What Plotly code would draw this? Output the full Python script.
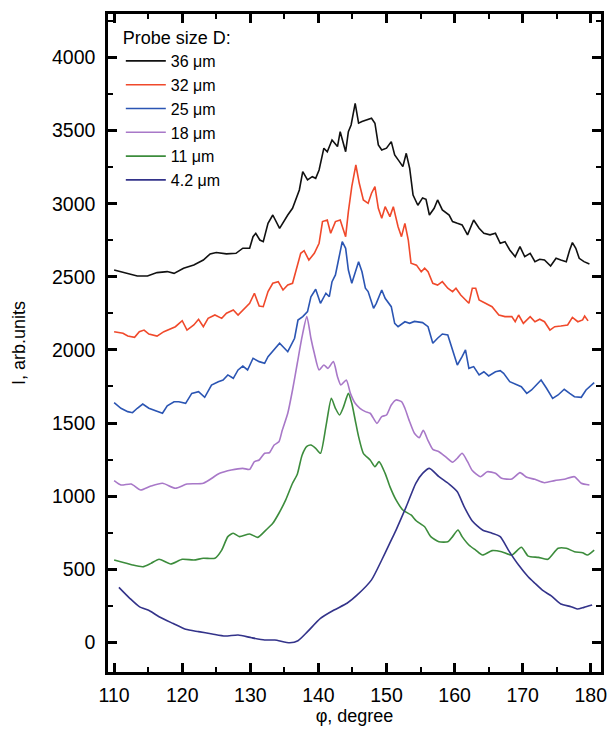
import plotly.graph_objects as go

# ---- data ----
phi_36 = [110.0,112.0,113.4,114.9,116.3,117.8,118.8,120.2,121.7,123.1,124.1,125.0,126.5,127.9,128.9,129.9,130.4,130.8,131.4,131.9,132.6,133.3,134.3,135.5,136.2,137.2,137.7,138.4,139.1,139.6,140.1,140.8,141.3,142.0,142.8,143.2,144.0,144.4,144.8,145.4,145.9,146.4,147.1,147.8,148.3,148.8,149.3,150.0,150.7,151.2,151.9,152.4,152.9,153.4,153.9,154.6,155.3,155.8,156.3,157.0,157.5,158.2,159.2,159.7,160.4,161.1,161.9,162.8,163.6,164.3,165.2,166.0,166.7,167.4,168.1,168.9,169.6,170.3,171.1,171.8,172.5,173.2,174.1,174.9,175.6,176.4,176.9,177.3,177.8,178.3,179.0,179.8]
I_36 = [2547,2524,2506,2506,2529,2536,2524,2559,2581,2615,2657,2666,2657,2661,2696,2696,2775,2798,2752,2741,2866,2923,2832,2923,2969,3094,3220,3163,3185,3174,3231,3380,3356,3436,3391,3493,3356,3493,3539,3687,3551,3562,3573,3585,3551,3402,3368,3380,3425,3334,3288,3254,3345,3243,3060,2990,3040,3030,2923,2969,3026,2958,2923,2878,2866,2855,2787,2889,2832,2798,2787,2798,2730,2741,2684,2638,2707,2638,2661,2604,2620,2615,2574,2627,2615,2604,2684,2734,2695,2627,2604,2588]

phi_32 = [110.0,111.3,112.0,113.0,113.7,114.4,115.1,116.3,117.3,118.3,119.0,120.0,120.7,121.7,122.4,123.1,123.8,124.8,125.8,126.5,127.5,128.2,128.9,129.9,130.6,131.3,131.9,132.6,133.3,134.1,134.8,135.5,136.2,137.0,137.4,137.9,138.6,139.4,140.1,140.6,141.3,141.8,142.5,143.2,144.0,144.4,144.9,145.5,146.0,146.6,147.3,147.8,148.3,148.8,149.3,149.8,150.5,151.0,151.7,152.2,152.7,153.2,153.6,154.4,155.1,155.6,156.1,156.8,157.5,158.2,159.0,159.7,160.2,160.9,161.6,162.1,162.6,163.1,163.6,164.5,165.5,166.5,167.4,168.4,168.9,169.4,170.1,171.1,171.8,172.5,173.2,174.0,174.7,175.6,176.6,177.3,178.1,178.8,179.1,179.6]
I_32 = [2125,2114,2095,2086,2125,2136,2109,2095,2125,2148,2159,2200,2136,2171,2210,2159,2216,2239,2216,2251,2273,2239,2273,2319,2388,2301,2296,2399,2456,2467,2410,2444,2456,2604,2661,2679,2615,2661,2730,2878,2889,2798,2878,2889,2775,2946,3117,3265,3140,3026,3003,3072,3117,2969,2901,2980,2912,2980,2843,2775,2866,2752,2593,2580,2535,2560,2535,2456,2444,2467,2422,2399,2422,2376,2342,2319,2422,2422,2342,2319,2296,2239,2228,2228,2193,2239,2182,2228,2193,2210,2193,2136,2159,2164,2171,2223,2193,2205,2232,2199]

phi_25 = [110.0,111.0,112.0,112.7,113.4,114.2,115.1,115.9,117.1,117.8,118.8,119.5,120.5,121.4,122.4,123.3,124.3,125.3,126.0,126.7,127.5,128.2,128.9,129.6,130.4,131.3,132.1,132.6,133.5,134.3,135.5,136.5,137.0,137.7,138.4,138.9,139.6,140.3,141.1,141.6,142.0,142.5,143.0,143.5,144.0,144.4,144.9,145.3,145.9,146.4,146.9,147.3,148.1,148.5,149.3,149.8,150.3,150.7,151.2,151.7,152.7,153.4,154.1,155.3,156.1,156.8,157.5,158.2,159.0,159.7,160.4,161.1,161.6,162.1,162.8,163.6,164.3,165.0,166.0,166.7,167.2,168.1,169.1,169.8,170.6,171.3,172.0,172.7,173.5,174.4,175.2,176.1,176.9,177.6,178.6,179.3,180.5]
I_25 = [1639,1601,1578,1571,1601,1630,1601,1589,1567,1617,1646,1646,1635,1703,1714,1676,1760,1783,1794,1829,1806,1863,1890,1863,1943,1920,1909,1954,2000,2046,1988,2080,2205,2228,2262,2364,2415,2319,2388,2364,2467,2513,2627,2741,2695,2547,2456,2513,2604,2535,2422,2399,2285,2319,2410,2353,2319,2296,2182,2159,2193,2182,2195,2187,2159,2046,2080,2109,2102,2000,1897,1954,2000,1874,1886,1829,1851,1822,1851,1858,1840,1783,1760,1749,1703,1726,1760,1794,1738,1669,1692,1731,1703,1680,1676,1726,1776]

phi_18 = [110.0,111.0,112.5,113.9,115.4,117.1,119.0,120.7,123.1,125.5,127.2,128.9,129.9,130.6,131.3,132.1,132.8,133.5,134.2,134.7,135.5,136.2,136.9,137.6,138.3,138.9,139.4,140.1,140.8,141.4,142.2,142.8,143.3,144.1,144.7,145.4,146.1,146.9,147.6,148.6,149.3,150.0,150.7,151.4,152.2,152.7,153.4,154.1,154.8,155.4,156.1,156.8,157.7,158.7,159.7,160.4,161.1,161.9,162.6,163.8,164.8,166.0,166.9,168.4,169.6,170.6,171.8,173.2,174.7,176.1,177.6,178.6,179.8]
I_18 = [1106,1076,1083,1042,1069,1088,1054,1083,1088,1156,1179,1190,1183,1236,1247,1293,1297,1350,1372,1452,1567,1726,1909,2091,2228,2080,1977,1863,1897,1874,1920,1817,1760,1794,1703,1635,1601,1578,1567,1498,1544,1555,1623,1658,1646,1601,1509,1430,1400,1450,1380,1320,1304,1268,1232,1259,1293,1236,1175,1133,1167,1156,1122,1117,1161,1129,1115,1092,1106,1115,1133,1088,1076]

phi_11 = [110.0,111.5,112.7,114.2,115.4,116.6,118.3,120.0,121.7,123.1,124.8,125.8,126.7,127.5,128.4,129.9,131.1,132.3,133.3,134.2,135.2,136.2,136.9,137.6,138.3,138.9,139.6,140.3,141.1,141.9,142.5,143.1,143.7,144.4,144.9,145.4,145.9,146.6,147.6,148.3,148.9,149.8,150.5,151.4,152.4,153.6,154.4,155.6,156.5,157.7,159.0,159.7,160.5,161.1,162.1,163.1,164.1,165.5,166.9,168.4,169.8,170.8,172.3,173.7,175.2,176.4,177.6,178.8,179.5,180.5]
I_11 = [563,545,529,517,540,568,536,568,563,575,575,631,723,746,723,741,718,768,814,883,974,1088,1150,1280,1340,1350,1327,1293,1475,1669,1601,1555,1612,1703,1635,1521,1407,1293,1247,1201,1236,1156,1065,974,905,871,830,791,723,688,688,723,768,723,666,631,597,627,620,597,650,590,581,568,643,643,620,613,597,631]

phi_4 = [110.7,112.3,113.7,115.2,116.6,118.6,120.5,122.4,124.4,126.3,128.2,130.2,132.1,133.6,135.8,137.0,138.4,140.3,142.3,144.2,145.7,147.8,149.3,150.5,151.4,152.9,154.3,155.3,156.3,157.7,159.2,160.4,161.4,162.6,164.1,165.5,166.7,167.9,169.4,170.8,171.8,173.0,174.2,175.6,177.1,178.0,179.0,180.2]
I_4 = [376,301,244,216,175,130,89,73,57,43,50,31,16,16,-3,11,73,164,221,267,324,427,563,680,768,928,1088,1156,1190,1133,1082,1030,928,830,768,746,723,631,529,449,404,353,317,262,244,228,239,255]

labels = ["36 μm", "32 μm", "25 μm", "18 μm", "11 μm", "4.2 μm"]
colors = ["#111111", "#f0492b", "#2b55b3", "#a878c8", "#3c8c3c", "#33338a"]
series = [(phi_36, I_36), (phi_32, I_32), (phi_25, I_25), (phi_18, I_18), (phi_11, I_11), (phi_4, I_4)]
shapes_ = ["linear", "linear", "linear", "spline", "spline", "spline"]

x_ticks = [110, 120, 130, 140, 150, 160, 170, 180]
y_ticks = [0, 500, 1000, 1500, 2000, 2500, 3000, 3500, 4000]

fig = go.Figure()
for (xs, ys), name, c, sh in zip(series, labels, colors, shapes_):
    fig.add_trace(go.Scatter(x=xs, y=ys, mode="lines", name=name,
                             line=dict(color=c, width=1.6, shape=sh, smoothing=0.6)))

axis_common = dict(showline=True, linecolor="black", linewidth=2.5, mirror="allticks",
                   ticks="inside", ticklen=9, tickwidth=2.5, tickcolor="black",
                   showgrid=False, zeroline=False,
                   tickfont=dict(size=19.5, color="black"))

fig.update_xaxes(range=[109.1, 181.5], tickvals=x_ticks, ticklabelstandoff=4,
                 minor=dict(ticks="inside", dtick=5, tick0=110, ticklen=5, tickwidth=2, tickcolor="black"),
                 title=dict(text="φ, degree", font=dict(size=18), standoff=5),
                 **axis_common)
fig.update_yaxes(range=[-203, 4298], tickvals=y_ticks, ticklabelstandoff=6,
                 minor=dict(ticks="inside", dtick=250, tick0=0, ticklen=5, tickwidth=2, tickcolor="black"),
                 title=dict(text="I, arb.units", font=dict(size=18), standoff=22),
                 **axis_common)

fig.update_layout(
    width=613, height=730,
    margin=dict(l=108, r=6, t=14, b=58),
    plot_bgcolor="white", paper_bgcolor="white",
    font=dict(family="Liberation Sans, Arial, sans-serif", size=18, color="black"),
    showlegend=True,
    legend=dict(x=0.026, y=0.99, xanchor="left", yanchor="top",
                bgcolor="rgba(0,0,0,0)", borderwidth=0,
                title=dict(text="Probe size D:", font=dict(size=18)),
                font=dict(size=16), tracegroupgap=0, itemwidth=40),
)

fig.write_html("out.html")
